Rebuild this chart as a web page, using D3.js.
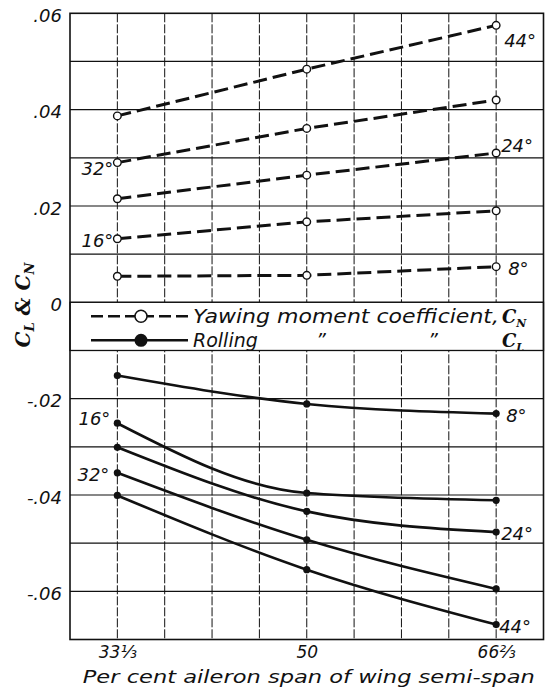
<!DOCTYPE html>
<html><head><meta charset="utf-8">
<script src="https://cdn.jsdelivr.net/npm/d3@7"></script>
<style>html,body{margin:0;padding:0;background:#fff}</style>
</head><body>
<svg id="chart" width="545" height="687"></svg>
<script>
const spans = [100/3, 50, 200/3];
const xTickLabels = ["33\u2153", "50", "66\u2154"];
const yTicks = [0.06, 0.04, 0.02, 0, -0.02, -0.04, -0.06];
const yTickLabels = [".06", ".04", ".02", "0", "-.02", "-.04", "-.06"];
const angles = ["8°", "16°", "24°", "32°", "44°"];
const cn8  = [0.0054, 0.0056, 0.0074];
const cn16 = [0.0132, 0.0167, 0.0190];
const cn24 = [0.0215, 0.0264, 0.0310];
const cn32 = [0.0290, 0.0361, 0.0420];
const cn44 = [0.0387, 0.0484, 0.0575];
const cl8  = [-0.0152, -0.0211, -0.0231];
const cl16 = [-0.0251, -0.0396, -0.0411];
const cl24 = [-0.0301, -0.0434, -0.0477];
const cl32 = [-0.0354, -0.0493, -0.0595];
const cl44 = [-0.0401, -0.0555, -0.0669];
const legendLabels = ["Yawing moment coefficient,", "Rolling"];
const xTitle = "Per cent aileron span of wing semi-span";

const svg = d3.select("#chart");
const step = 50/12;
const x = d3.scaleLinear().domain([100/3 - step, 200/3 + step]).range([70, 543.5]);
const y = d3.scaleLinear().domain([0.06, -0.07]).range([13.3, 639.5]);
const L = x.range()[0], R = x.range()[1], T = y.range()[0], B = y.range()[1];
const ink = "#111";
const font = "'DejaVu Sans', 'Liberation Sans', sans-serif";

// vertical grid (broken lines)
const vx = d3.range(1, 10).map(k => x.domain()[0] + k*step);
svg.append("g").selectAll("line").data(vx).join("line")
  .attr("x1", d => x(d)).attr("x2", d => x(d)).attr("y1", T).attr("y2", B)
  .attr("stroke", ink).attr("stroke-width", 1).attr("stroke-dasharray", "9,2");
// horizontal grid
const hy = d3.range(-6, 6).map(k => k/100);
svg.append("g").selectAll("line").data(hy).join("line")
  .attr("x1", L).attr("x2", R).attr("y1", d => y(d)).attr("y2", d => y(d))
  .attr("stroke", ink).attr("stroke-width", 1.2);

// legend box (0 to -0.01)
svg.append("rect").attr("x", L).attr("y", y(0)).attr("width", R - L).attr("height", y(-0.01) - y(0))
  .attr("fill", "#fff").attr("stroke", ink).attr("stroke-width", 1.3);

// border
svg.append("rect").attr("x", L).attr("y", T).attr("width", R - L).attr("height", B - T)
  .attr("fill", "none").attr("stroke", ink).attr("stroke-width", 1.6);

// y tick labels via axis
const yAxis = d3.axisLeft(y).tickValues(yTicks).tickSize(0).tickPadding(8)
  .tickFormat((d, i) => yTickLabels[i]);
const ga = svg.append("g").attr("transform", `translate(${L},0)`).call(yAxis);
ga.select(".domain").remove();
ga.selectAll("text").attr("font-family", font).attr("font-style", "italic")
  .attr("font-size", 18).attr("fill", ink).attr("dy", "0.45em");

// x tick labels via axis
const xAxis = d3.axisBottom(x).tickValues(spans).tickSize(0).tickPadding(6)
  .tickFormat((d, i) => xTickLabels[i]);
const gx = svg.append("g").attr("transform", `translate(0,${B})`).call(xAxis);
gx.select(".domain").remove();
gx.selectAll("text").attr("font-family", font).attr("font-style", "italic")
  .attr("font-size", 17).attr("fill", ink);

svg.append("text").attr("x", (L + R)/2 + 2).attr("y", 683).attr("text-anchor", "middle")
  .attr("font-family", font).attr("font-style", "italic").attr("font-size", 18)
  .attr("fill", ink).attr("textLength", 452).attr("lengthAdjust", "spacingAndGlyphs").text(xTitle);

// y title
const yt = svg.append("text").attr("transform", "translate(30,305) rotate(-90)")
  .attr("text-anchor", "middle").attr("font-family", "'DejaVu Serif', serif")
  .attr("font-weight", "bold").attr("font-style", "italic").attr("font-size", 20).attr("fill", ink);
yt.append("tspan").text("C");
yt.append("tspan").attr("font-size", 13).attr("dy", 4).text("L");
yt.append("tspan").attr("dy", -4).text(" & C");
yt.append("tspan").attr("font-size", 13).attr("dy", 4).text("N");

// CN series (dashed, open circles)
const cnSeries = [cn8, cn16, cn24, cn32, cn44];
const clSeries = [cl8, cl16, cl24, cl32, cl44];
const lineLin = d3.line().x((d, i) => x(spans[i])).y(d => y(d));
const lineCurve = d3.line().x((d, i) => x(spans[i])).y(d => y(d)).curve(d3.curveMonotoneX);

svg.append("g").selectAll("path").data(cnSeries).join("path")
  .attr("d", lineLin).attr("fill", "none").attr("stroke", ink)
  .attr("stroke-width", 3).attr("stroke-dasharray", "14,6");
svg.append("g").selectAll("path").data(clSeries).join("path")
  .attr("d", lineCurve).attr("fill", "none").attr("stroke", ink).attr("stroke-width", 2.6);

cnSeries.forEach(s => {
  svg.append("g").selectAll("circle").data(s).join("circle")
    .attr("cx", (d, i) => x(spans[i])).attr("cy", d => y(d)).attr("r", 3.8)
    .attr("fill", "#fff").attr("stroke", ink).attr("stroke-width", 1.4);
});
clSeries.forEach(s => {
  svg.append("g").selectAll("circle").data(s).join("circle")
    .attr("cx", (d, i) => x(spans[i])).attr("cy", d => y(d)).attr("r", 3.6).attr("fill", ink);
});

// angle labels
function lab(px, py, txt, anchor) {
  svg.append("text").attr("x", px).attr("y", py).attr("text-anchor", anchor || "start")
    .attr("font-family", font).attr("font-style", "italic").attr("font-size", 18)
    .attr("fill", ink).text(txt);
}
lab(x(spans[2]) + 8, y(cn44[2]) + 22, angles[4]);
lab(x(spans[2]) + 5, y(cn24[2]) - 1, angles[2]);
lab(x(spans[2]) + 12, y(cn8[2]) + 8, angles[0]);
lab(x(spans[0]) - 4, y(cn32[0]) + 12, angles[3], "end");
lab(x(spans[0]) - 4, y(cn16[0]) + 8, angles[1], "end");
lab(x(spans[2]) + 10, y(cl8[2]) + 8, angles[0]);
lab(x(spans[2]) + 5, y(cl24[2]) + 8, angles[2]);
lab(x(spans[2]) + 3, y(cl44[2]) + 8, angles[4]);
lab(x(spans[0]) - 7, y(cl16[0]) + 2, angles[1], "end");
lab(x(spans[0]) - 8, y(cl32[0]) + 8, angles[3], "end");

// legend entries
const ly1 = y(0) + 14, ly2 = y(0) + 38;
const lx0 = 91, lx1 = 188, lc = 141;
svg.append("line").attr("x1", lx0).attr("x2", lx1).attr("y1", ly1).attr("y2", ly1)
  .attr("stroke", ink).attr("stroke-width", 2.4).attr("stroke-dasharray", "12,5");
svg.append("circle").attr("cx", lc).attr("cy", ly1).attr("r", 6)
  .attr("fill", "#fff").attr("stroke", ink).attr("stroke-width", 1.5);
svg.append("line").attr("x1", lx0).attr("x2", lx1).attr("y1", ly2).attr("y2", ly2)
  .attr("stroke", ink).attr("stroke-width", 2.4);
svg.append("circle").attr("cx", lc).attr("cy", ly2).attr("r", 6.5).attr("fill", ink);

function ltxt(px, py, txt) {
  return svg.append("text").attr("x", px).attr("y", py)
    .attr("font-family", font).attr("font-style", "italic").attr("font-size", 19)
    .attr("fill", ink).text(txt);
}
ltxt(193, ly1 + 7, legendLabels[0]).attr("textLength", 306).attr("lengthAdjust", "spacingAndGlyphs");
ltxt(193, ly2 + 7, legendLabels[1]);
ltxt(316, ly2 + 7, "\u201D");
ltxt(428, ly2 + 7, "\u201D");

function csym(px, py, sub) {
  const t = svg.append("text").attr("x", px).attr("y", py)
    .attr("font-family", "'DejaVu Serif', serif").attr("font-weight", "bold")
    .attr("font-style", "italic").attr("font-size", 18).attr("fill", ink);
  t.append("tspan").text("C");
  t.append("tspan").attr("font-size", 11).attr("dy", 4).text(sub);
}
csym(502, ly1 + 7, "N");
csym(502, ly2 + 7, "L");
</script>
</body></html>
